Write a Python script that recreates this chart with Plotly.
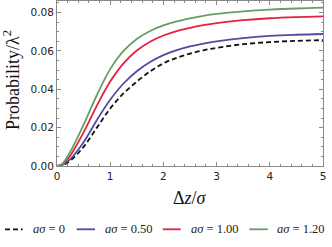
import plotly.graph_objects as go

# ---- data ----
dz = [0, 0.1, 0.25, 0.5, 0.75, 1.0, 1.25, 1.5, 1.75, 2.0, 2.25, 2.5, 2.75, 3.0, 3.5, 4.0, 4.5, 5.0]
p_a0 = [0, 0.0004, 0.0028, 0.0100, 0.0200, 0.0300, 0.0378, 0.0440, 0.0493, 0.0535, 0.0564, 0.0586, 0.0603, 0.0616, 0.0635, 0.0646, 0.0652, 0.0656]
p_a050 = [0, 0.0006, 0.0036, 0.0124, 0.0240, 0.0345, 0.0430, 0.0494, 0.0542, 0.0578, 0.0604, 0.0623, 0.0638, 0.0650, 0.0667, 0.0678, 0.0684, 0.0688]
p_a100 = [0, 0.0009, 0.0055, 0.0175, 0.0315, 0.0440, 0.0535, 0.0602, 0.0648, 0.0680, 0.0703, 0.0720, 0.0734, 0.0745, 0.0760, 0.0770, 0.0776, 0.0780]
p_a120 = [0, 0.0012, 0.0075, 0.0215, 0.0370, 0.0505, 0.0600, 0.0662, 0.0704, 0.0733, 0.0754, 0.0770, 0.0783, 0.0793, 0.0806, 0.0815, 0.0821, 0.0825]

series_labels = ["<i>aσ</i> = 0", "<i>aσ</i> = 0.50", "<i>aσ</i> = 1.00", "<i>aσ</i> = 1.20"]
x_ticks = [0, 1, 2, 3, 4, 5]
y_ticks = [0.00, 0.02, 0.04, 0.06, 0.08]

colors = ["#111111", "#4E4EA0", "#E2233D", "#64A064"]
dashes = ["5px,3px", "solid", "solid", "solid"]
series = [p_a0, p_a050, p_a100, p_a120]

W, H = 332, 247
L, R, T, B = 57, 9, 1, 81
pw, ph = W - L - R, H - T - B

fig = go.Figure()
for ys, c, d, lab in zip(series, colors, dashes, series_labels):
    fig.add_trace(go.Scatter(x=dz, y=ys, mode="lines", name=lab,
                             line=dict(color=c, width=1.8, dash=d, shape="spline", smoothing=1.0),
                             showlegend=False))

def px_x(px):
    return (px - L) / pw

def px_y(py):
    return (H - B - py) / ph

# manual legend
leg_y = px_y(229.3)
leg_items = [(5, 22.7, 31), (76.7, 95, 102.7), (162.7, 180.7, 189), (249.3, 267.7, 275)]
shapes = []
annotations = []
for (x0, x1, xt), c, d, lab in zip(leg_items, colors, dashes, series_labels):
    shapes.append(dict(type="line", xref="paper", yref="paper", x0=px_x(x0), x1=px_x(x1),
                       y0=leg_y, y1=leg_y, line=dict(color=c, width=1.8, dash=d)))
    annotations.append(dict(xref="paper", yref="paper", x=px_x(xt), y=leg_y, text=lab,
                            showarrow=False, xanchor="left", yanchor="middle",
                            font=dict(family="Liberation Serif", size=12.5, color="#222222")))

# axis titles
annotations.append(dict(xref="paper", yref="paper", x=px_x(190), y=px_y(198), text="Δ<i>z</i>/<i>σ</i>",
                        showarrow=False, xanchor="center", yanchor="middle",
                        font=dict(family="Liberation Serif", size=18, color="#111111")))
annotations.append(dict(xref="paper", yref="paper", x=px_x(11), y=px_y(80), text="Probability/λ<sup>2</sup>",
                        showarrow=False, xanchor="center", yanchor="middle", textangle=-90,
                        font=dict(family="Liberation Serif", size=18, color="#111111")))

axis_common = dict(showline=True, linecolor="#8a8a8a", linewidth=1, mirror="ticks",
                   ticks="inside", tickcolor="#8a8a8a", ticklen=4, tickwidth=1,
                   showgrid=False, zeroline=False,
                   tickfont=dict(family="DejaVu Sans", size=10.5, color="#222222"))

fig.update_xaxes(range=[0, 5], tickvals=x_ticks, ticktext=[str(v) for v in x_ticks],
                 minor=dict(dtick=0.2, tick0=0, ticks="inside", ticklen=2, tickcolor="#8a8a8a", showgrid=False),
                 **axis_common)
fig.update_yaxes(range=[0, 0.086], tickvals=y_ticks, ticktext=[f"{v:.2f}" for v in y_ticks],
                 minor=dict(dtick=0.005, tick0=0, ticks="inside", ticklen=2, tickcolor="#8a8a8a", showgrid=False),
                 **axis_common)

fig.update_layout(width=W, height=H, margin=dict(l=L, r=R, t=T, b=B, pad=0),
                  paper_bgcolor="white", plot_bgcolor="white",
                  shapes=shapes, annotations=annotations, showlegend=False)

fig.write_html("out.html", config={"displayModeBar": False, "staticPlot": True},
               post_script="document.body.style.margin='0px';document.body.style.padding='0px';")
